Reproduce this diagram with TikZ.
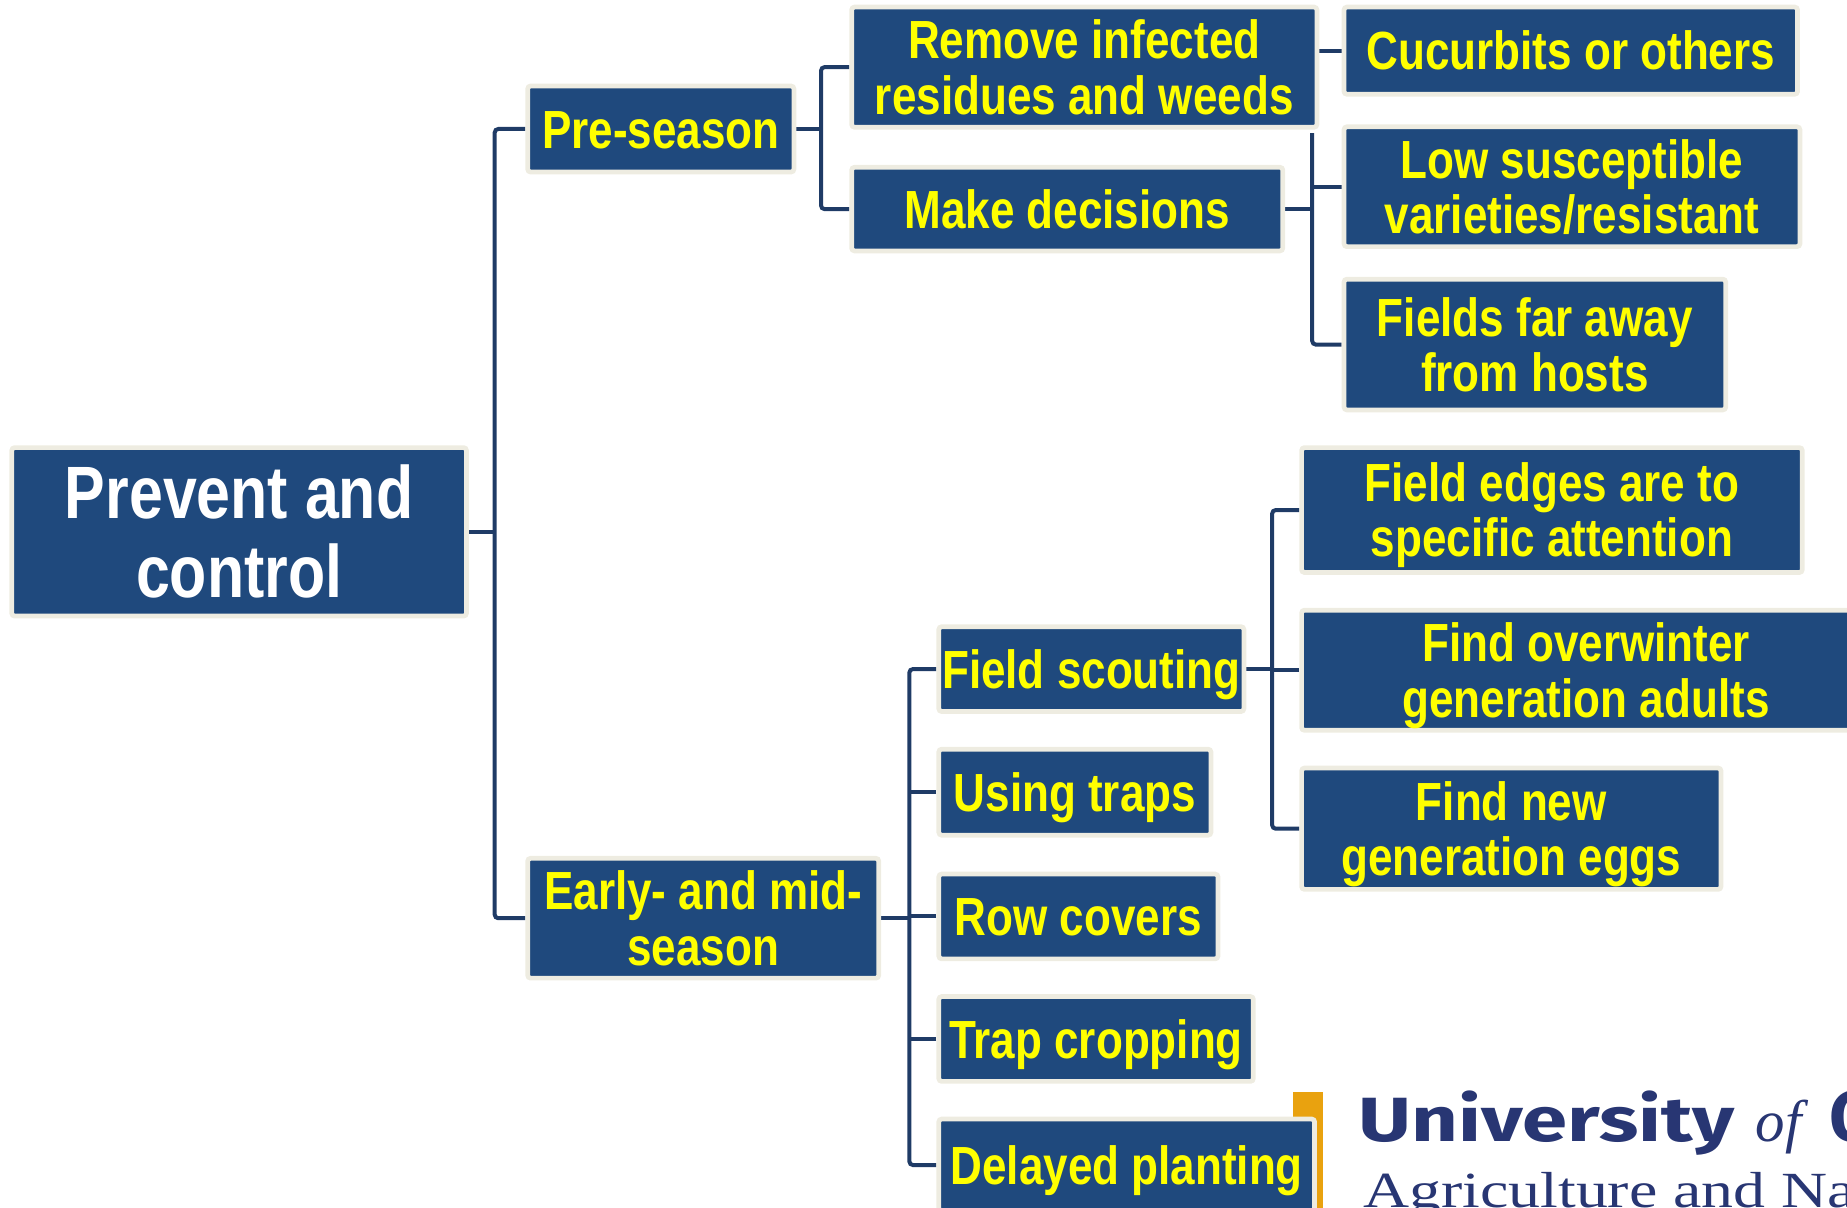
\documentclass[tikz,border=0pt]{standalone}
\usepackage{fontspec}
\usepackage{graphicx}
\newfontfamily\yfont{Liberation Sans}[FakeStretch=0.82]
\newfontfamily\logosans{Fira Sans}
\newfontfamily\logoserif{Liberation Serif}
\definecolor{boxblue}{HTML}{1F497D}
\definecolor{boxrim}{HTML}{EEECE1}
\definecolor{connblue}{HTML}{1F3B66}
\definecolor{txtyellow}{HTML}{FFFF00}
\definecolor{logonavy}{HTML}{283673}
\definecolor{logoorange}{HTML}{E9A20F}
\newcommand\ystr{\vrule height 0.958em depth 0.242em width 0pt\relax}
\pgfdeclarelayer{back}
\pgfsetlayers{back,main}
\begin{document}
\lineskiplimit=-50pt
\begin{tikzpicture}[x=0.5pt,y=-0.5pt,
  boxnode/.style={fill=boxblue,draw=boxrim,line width=2pt,rounded corners=1.2pt,inner sep=0pt,align=center,text=txtyellow,
     font=\yfont\bfseries\fontsize{22.8pt}{23.5pt}\selectfont},
  rootnode/.style={boxnode,text=white,font=\yfont\bfseries\fontsize{31.5pt}{33.5pt}\selectfont},
  conn/.style={draw=connblue,line width=1.7pt,rounded corners=1.5pt}]
\useasboundingbox (0,0) rectangle (1568,1025);
\clip (0,0) rectangle (1568,1025);

% logo bar
\fill[logoorange] (1098,927) rectangle (1123,1030);

% boxes
\node[rootnode,minimum width=193pt,minimum height=71.5pt] (root) at (203,451.5) {\ystr Prevent and\\\ystr control};
\node[boxnode,minimum width=113pt,minimum height=36.5pt] (pre) at (561,109.5) {\ystr Pre-season};
\node[boxnode,minimum width=197.5pt,minimum height=51pt] (remove) at (920.5,57) {\ystr Remove infected\\\ystr residues and weeds};
\node[boxnode,minimum width=183pt,minimum height=35.5pt] (make) at (906,177.5) {\ystr Make decisions};
\node[boxnode,minimum width=192.5pt,minimum height=37pt] (cucurb) at (1333.5,43) {\ystr Cucurbits or others};
\node[boxnode,minimum width=193.5pt,minimum height=46.5pt] (lowsus) at (1334.5,158.5) {\ystr Low susceptible\\\ystr varieties/resistant};
\node[boxnode,minimum width=162pt,minimum height=55.5pt] (fields) at (1303,292.5) {\ystr Fields far away\\\ystr from hosts};
\node[boxnode,minimum width=149pt,minimum height=50.5pt] (early) at (597,779.5) {\ystr Early- and mid-\\\ystr season};
\node[boxnode,minimum width=129.5pt,minimum height=36pt] (scout) at (926.5,568) {\ystr Field scouting};
\node[boxnode,minimum width=115.5pt,minimum height=36.5pt] (traps) at (912.5,672.5) {\ystr Using traps};
\node[boxnode,minimum width=118.5pt,minimum height=36pt] (rowc) at (915.5,778) {\ystr Row covers};
\node[boxnode,minimum width=133.5pt,minimum height=36pt] (trapc) at (930.5,882) {\ystr Trap cropping};
\node[boxnode,minimum width=159.5pt,minimum height=39pt] (delayed) at (956.5,989) {\ystr Delayed planting};
\node[boxnode,minimum width=212.5pt,minimum height=53pt] (edges) at (1317.5,433) {\ystr Field edges are to\\\ystr specific attention};
\node[boxnode,minimum width=241.5pt,minimum height=51pt] (overw) at (1346.5,569) {\ystr Find overwinter\\\ystr generation adults};
\node[boxnode,minimum width=178pt,minimum height=51.5pt] (newgen) at (1283,703.5) {\ystr Find new\\\ystr generation eggs};

% junctions
\coordinate (j0) at (420,451.5);
\coordinate (j1) at (697,109.5);
\coordinate (j2) at (1114,177.5);
\coordinate (t2) at (1114,113);
\coordinate (j3) at (772,779.5);
\coordinate (j4) at (1080,568);

\begin{pgfonlayer}{back}
\draw[conn] (root.east) -- (j0);
\draw[conn] (pre.west) -| (j0) |- (early.west);
\draw[conn] (pre.east) -- (j1);
\draw[conn] (remove.west) -| (j1) |- (make.west);
\draw[conn] (remove.east |- cucurb.west) -- (cucurb.west);
\draw[conn] (make.east) -- (j2);
\draw[conn] (t2) |- (fields.west);
\draw[conn] (lowsus.west) -- (lowsus.west -| t2);
\draw[conn] (early.east) -- (j3);
\draw[conn] (scout.west) -| (j3) |- (delayed.west);
\draw[conn] (traps.west) -- (traps.west -| j3);
\draw[conn] (rowc.west) -- (rowc.west -| j3);
\draw[conn] (trapc.west) -- (trapc.west -| j3);
\draw[conn] (scout.east) -- (j4);
\draw[conn] (edges.west) -| (j4) |- (newgen.west);
\draw[conn] (overw.west) -- (overw.west -| j4);
\end{pgfonlayer}

% logo text
\node[anchor=base west,inner sep=0pt,text=logonavy] (univ) at (1153,969) {\resizebox{159.5pt}{21.5pt}{\logosans\bfseries University}};
\node[anchor=base west,inner sep=0pt,text=logonavy] (unof) at (1490,969) {\logoserif\itshape\fontsize{25pt}{25pt}\selectfont of};
\node[anchor=base west,inner sep=0pt,text=logonavy] (ung) at (1553,969) {\logosans\bfseries\fontsize{30.5pt}{30.5pt}\selectfont G};
\node[anchor=base west,inner sep=0pt,text=logonavy] (agri) at (1157,1025) {\scalebox{1.26}[1]{\logoserif\fontsize{21.5pt}{21.5pt}\selectfont Agriculture and Na}};
\end{tikzpicture}
\end{document}
